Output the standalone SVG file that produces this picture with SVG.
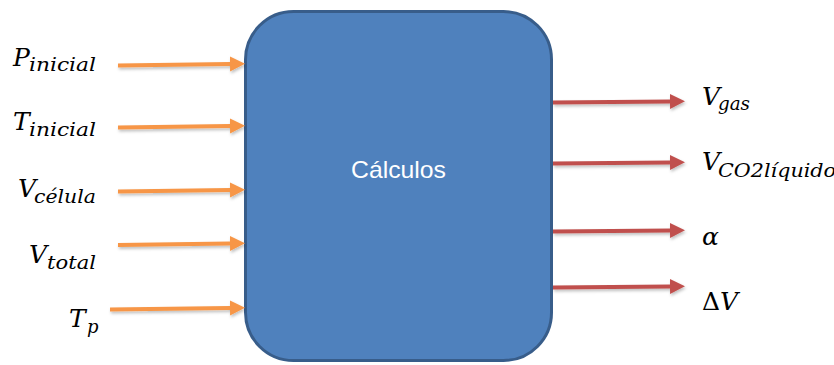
<svg xmlns="http://www.w3.org/2000/svg" width="834" height="365" viewBox="0 0 834 365">
  <defs>
    <style>
      .m { font-family: 'DejaVu Serif', 'Liberation Serif', serif; font-style: italic; fill: #000; }
      .big { font-size: 25px; }
      .sub { font-size: 18px; }
      .in { stroke: #F79646; stroke-width: 4; fill: none; }
      .out { stroke: #C0504D; stroke-width: 4; fill: none; }
      .box { fill: #4F81BD; stroke: #385D8A; stroke-width: 3; }
      .lbl { font-family: 'Liberation Sans', 'Open Sans', sans-serif; font-size: 24px; fill: #FFFFFF; }
    </style>
    <marker id="ahIn" markerUnits="userSpaceOnUse" markerWidth="16" markerHeight="16" refX="0" refY="8" orient="auto" viewBox="0 0 16 16">
      <path d="M0,0.5 L15,8 L0,15.5 z" fill="#F79646"/>
    </marker>
    <marker id="ahOut" markerUnits="userSpaceOnUse" markerWidth="16" markerHeight="16" refX="0" refY="8" orient="auto" viewBox="0 0 16 16">
      <path d="M0,0.5 L15,8 L0,15.5 z" fill="#C0504D"/>
    </marker>
    <filter id="sh" x="-10%" y="-50%" width="120%" height="250%">
      <feDropShadow dx="1" dy="2" stdDeviation="1.5" flood-color="#000" flood-opacity="0.25"/>
    </filter>
  </defs>

  <g id="calculos">
    <rect class="box" x="245.5" y="11.5" width="306" height="349" rx="48" ry="48"/>
    <text class="lbl" x="398.5" y="178" text-anchor="middle" textLength="95" lengthAdjust="spacingAndGlyphs">Cálculos</text>
  </g>

  <g id="connectors" filter="url(#sh)">
    <line class="in" x1="118" y1="65.5" x2="230" y2="64" marker-end="url(#ahIn)"/>
    <line class="in" x1="118" y1="127.5" x2="230" y2="126" marker-end="url(#ahIn)"/>
    <line class="in" x1="118" y1="191.5" x2="230" y2="190" marker-end="url(#ahIn)"/>
    <line class="in" x1="118" y1="245" x2="230" y2="243.5" marker-end="url(#ahIn)"/>
    <line class="in" x1="110" y1="309.5" x2="230" y2="308" marker-end="url(#ahIn)"/>
    <line class="out" x1="553" y1="102.5" x2="670" y2="101.5" marker-end="url(#ahOut)"/>
    <line class="out" x1="553" y1="163.5" x2="670" y2="162.5" marker-end="url(#ahOut)"/>
    <line class="out" x1="553" y1="231.5" x2="670" y2="230.5" marker-end="url(#ahOut)"/>
    <line class="out" x1="553" y1="287.5" x2="670" y2="286.5" marker-end="url(#ahOut)"/>
  </g>

  <g id="in-pinicial">
    <text class="m big" x="13" y="66">P</text>
    <text class="m sub" x="29" y="71" textLength="67" lengthAdjust="spacingAndGlyphs">inicial</text>
  </g>
  <g id="in-tinicial">
    <text class="m big" x="13" y="130">T</text>
    <text class="m sub" x="29" y="136" textLength="67" lengthAdjust="spacingAndGlyphs">inicial</text>
  </g>
  <g id="in-vcelula">
    <text class="m big" x="18" y="197">V</text>
    <text class="m sub" x="34" y="203" textLength="62" lengthAdjust="spacingAndGlyphs">célula</text>
  </g>
  <g id="in-vtotal">
    <text class="m big" x="29" y="263">V</text>
    <text class="m sub" x="47" y="269" textLength="49" lengthAdjust="spacingAndGlyphs">total</text>
  </g>
  <g id="in-tp">
    <text class="m big" x="69" y="327">T</text>
    <text class="m sub" x="87" y="333">p</text>
  </g>

  <g id="out-vgas">
    <text class="m big" x="702" y="105">V</text>
    <text class="m sub" x="718" y="110" textLength="32" lengthAdjust="spacingAndGlyphs">gas</text>
  </g>
  <g id="out-vco2">
    <text class="m big" x="702" y="170">V</text>
    <text class="m sub" x="718" y="177" textLength="118" lengthAdjust="spacingAndGlyphs">CO2líquido</text>
  </g>
  <g id="out-alpha">
    <text class="m big" x="702" y="245">α</text>
  </g>
  <g id="out-deltav">
    <text class="m big" x="702" y="310"><tspan font-style="normal">Δ</tspan>V</text>
  </g>
</svg>
